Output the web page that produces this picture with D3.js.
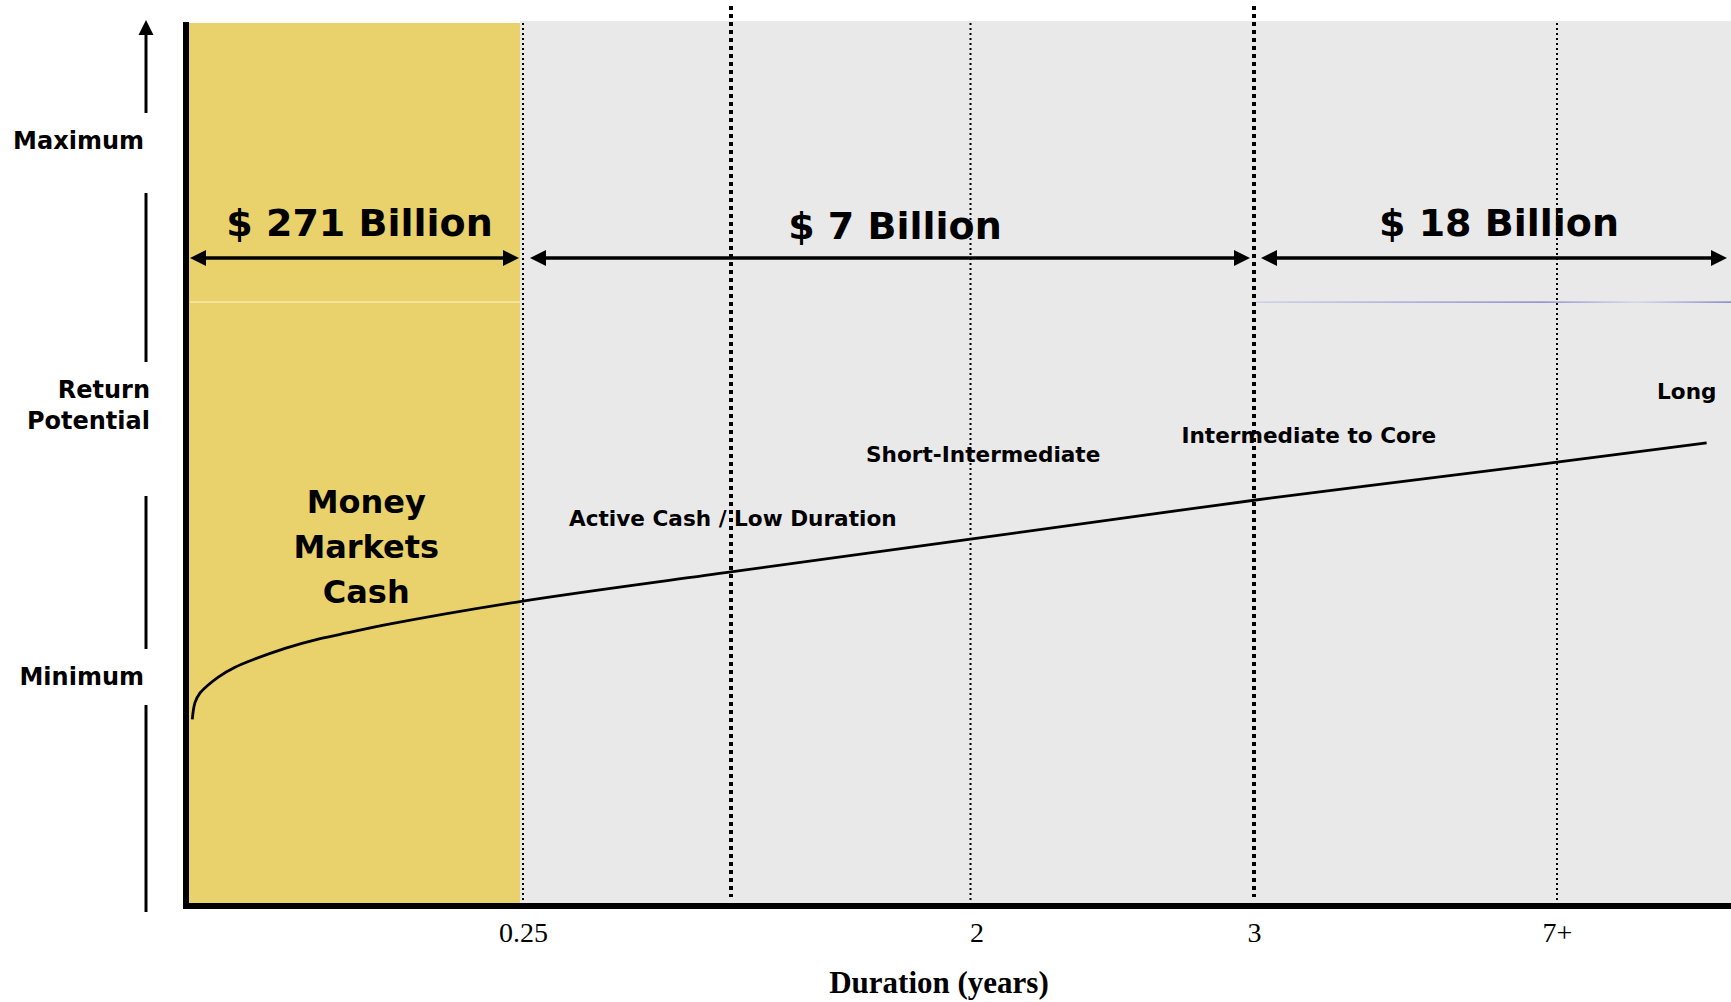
<!DOCTYPE html>
<html>
<head>
<meta charset="utf-8">
<script src="https://cdn.jsdelivr.net/npm/d3@7"></script>
<style>
  body { margin: 0; background: #fff; }
</style>
</head>
<body>
<svg id="chart"></svg>
<script>
// duration bands (years) and assets held in each
const bandEdges  = [0, 0.25, 3, 8];
const bandLabels = ["$ 271 Billion", "$ 7 Billion", "$ 18 Billion"];

// x ticks
const tickValues = [0.25, 2, 3, 7];
const tickLabels = ["0.25", "2", "3", "7+"];

// dotted separators (years)
const heavyLines = [1, 3];
const lightLines = [0.25, 2, 7];

// return potential curve, duration (years) -> relative return (0 = floor, 100 = top)
const curveDuration = [0.0032, 0.0052, 0.009, 0.0151, 0.0226, 0.0351, 0.0475, 0.0724, 0.0972, 0.1222, 0.147, 0.25, 1, 2, 3, 7, 7.86];
const curveReturn   = [21.1, 23.0, 24.1, 25.0, 25.9, 27.0, 27.8, 29.15, 30.2, 31.0, 31.8, 34.5, 37.8, 41.5, 45.9, 50.2, 52.4];

// strategy names along the curve
const sectorNames = ["Active Cash / Low Duration", "Short-Intermediate", "Intermediate to Core", "Long"];
const cashLines   = ["Money", "Markets", "Cash"];
const yLabels     = ["Maximum", "Return Potential", "Minimum"];

// ---- layout (not data) ----
const W = 1731, H = 1002;
const sans  = "'DejaVu Sans', Verdana, sans-serif";
const serif = "'Liberation Serif', 'Times New Roman', serif";
const sectorPos = [[0.416, 43.0], [1.564, 50.2], [2.744, 52.4], [7.575, 57.4]];
const yLabelPos = [[144, 149], [150, 398], [144, 685]];
const yGaps     = [[20, 113], [193, 362], [496, 649], [705, 912]];
const bandBase  = [236, 239, 236];
const tickNudge = [0, 6, 0, 0];

const svg = d3.select('#chart').attr('width', W).attr('height', H);

const x = d3.scaleLinear()
    .domain([0, 0.25, 1, 2, 3, 7, 8])
    .range([188, 523, 731, 970.5, 1254, 1557, 1731]);
const y = d3.scaleLinear().domain([0, 100]).range([906, 22]);

// backgrounds
svg.append('rect')
    .attr('x', x(0.25) - 3).attr('y', y(100) - 1)
    .attr('width', x(8) - x(0.25) + 3).attr('height', y(0) - y(100) + 1)
    .attr('fill', '#e9e9e9');
svg.append('rect')
    .attr('x', x(0)).attr('y', y(100) + 1)
    .attr('width', x(0.25) - x(0) - 3).attr('height', y(0) - y(100) - 1)
    .attr('fill', '#e9d16b');

// faint horizontal rules
svg.append('line')
    .attr('x1', x(0) + 2).attr('x2', x(0.25) - 3)
    .attr('y1', 302).attr('y2', 302)
    .attr('stroke', '#fff5c8').attr('stroke-width', 1);

const grad = svg.append('defs').append('linearGradient').attr('id', 'purp');
grad.append('stop').attr('offset', '0%').attr('stop-color', '#c8c8e6');
grad.append('stop').attr('offset', '60%').attr('stop-color', '#7474c4');
grad.append('stop').attr('offset', '80%').attr('stop-color', '#d0d0ea');
grad.append('stop').attr('offset', '100%').attr('stop-color', '#6a6abf');
svg.append('rect')
    .attr('x', x(3) + 2).attr('y', 301.5)
    .attr('width', x(8) - x(3) - 2).attr('height', 1.2)
    .attr('fill', 'url(#purp)');

// dotted separators
svg.selectAll('line.light').data(lightLines).enter()
    .append('line').attr('class', 'light')
    .attr('x1', d => x(d)).attr('x2', d => x(d))
    .attr('y1', y(100) + 1).attr('y2', y(0))
    .attr('stroke', '#000').attr('stroke-width', 2)
    .attr('stroke-dasharray', '2,3');

svg.selectAll('line.heavy').data(heavyLines).enter()
    .append('line').attr('class', 'heavy')
    .attr('x1', d => x(d)).attr('x2', d => x(d))
    .attr('y1', 6).attr('y2', 897)
    .attr('stroke', '#000').attr('stroke-width', 4)
    .attr('stroke-dasharray', '4,4');

// return curve
const pts = curveDuration.map((d, i) => ({ d: d, r: curveReturn[i] }));
svg.append('path')
    .datum(pts)
    .attr('fill', 'none')
    .attr('stroke', '#000')
    .attr('stroke-width', 2.8)
    .attr('d', d3.line().x(p => x(p.d)).y(p => y(p.r)).curve(d3.curveCatmullRom.alpha(0.5)));

// arrowhead helper
function head(tx, ty, dir, len, half) {
    // dir: 'l', 'r', 'u'
    if (dir === 'r') return `M${tx},${ty} L${tx - len},${ty - half} L${tx - len},${ty + half} Z`;
    if (dir === 'l') return `M${tx},${ty} L${tx + len},${ty - half} L${tx + len},${ty + half} Z`;
    return `M${tx},${ty} L${tx - half},${ty + len} L${tx + half},${ty + len} Z`;
}

// band arrows + labels
const arrowY = 258;
const bands = bandLabels.map((label, i) => ({
    label: label,
    x0: x(bandEdges[i]) + (i === 0 ? 2 : 7),
    x1: Math.min(x(bandEdges[i + 1]) - 4, W)
}));

const bg = svg.append('g');
bands.forEach((b, i) => {
    bg.append('line')
        .attr('x1', b.x0 + 10).attr('x2', b.x1 - 10)
        .attr('y1', arrowY).attr('y2', arrowY)
        .attr('stroke', '#000').attr('stroke-width', 3.5);
    bg.append('path').attr('d', head(b.x0, arrowY, 'l', 16, 8)).attr('fill', '#000');
    bg.append('path').attr('d', head(b.x1, arrowY, 'r', 16, 8)).attr('fill', '#000');
    bg.append('text')
        .attr('x', (b.x0 + b.x1) / 2 + 5)
        .attr('y', bandBase[i])
        .attr('text-anchor', 'middle')
        .style('font-family', sans).style('font-weight', 'bold').style('font-size', '38px')
        .text(b.label);
});

// money markets label
svg.selectAll('text.cash').data(cashLines).enter()
    .append('text').attr('class', 'cash')
    .attr('x', x(0.133))
    .attr('y', (d, i) => 513 + i * 45)
    .attr('text-anchor', 'middle')
    .style('font-family', sans).style('font-weight', 'bold').style('font-size', '32px')
    .text(d => d);

// sector labels
svg.selectAll('text.sector').data(sectorNames).enter()
    .append('text').attr('class', 'sector')
    .attr('x', (d, i) => x(sectorPos[i][0]))
    .attr('y', (d, i) => y(sectorPos[i][1]))
    .style('font-family', sans).style('font-weight', 'bold').style('font-size', '21.6px')
    .text(d => d);

// chart axes (thick lines)
svg.append('line')
    .attr('x1', 186).attr('x2', 186).attr('y1', y(100)).attr('y2', 909)
    .attr('stroke', '#000').attr('stroke-width', 6);
svg.append('line')
    .attr('x1', 183).attr('x2', W).attr('y1', y(0)).attr('y2', y(0))
    .attr('stroke', '#000').attr('stroke-width', 6);

// x tick labels
const xAxis = svg.append('g')
    .attr('transform', `translate(0, ${y(0)})`)
    .call(d3.axisBottom(x).tickValues(tickValues)
        .tickFormat((d, i) => tickLabels[i])
        .tickSize(0).tickPadding(16));
xAxis.select('.domain').remove();
xAxis.selectAll('text')
    .attr('dx', (d, i) => tickNudge[i])
    .style('font-family', serif).style('font-size', '28px').attr('fill', '#000');

svg.append('text')
    .attr('x', 939).attr('y', 993)
    .attr('text-anchor', 'middle')
    .style('font-family', serif).style('font-weight', 'bold').style('font-size', '31px')
    .text('Duration (years)');

// return potential scale on the left
const axX = 146;
yGaps.forEach((g, i) => {
    svg.append('line')
        .attr('x1', axX).attr('x2', axX)
        .attr('y1', i === 0 ? g[0] + 12 : g[0]).attr('y2', g[1])
        .attr('stroke', '#000').attr('stroke-width', 3);
});
svg.append('path').attr('d', head(axX, 20, 'u', 15, 7.5)).attr('fill', '#000');

yLabels.forEach((lab, i) => {
    const t = svg.append('text')
        .attr('x', yLabelPos[i][0]).attr('y', yLabelPos[i][1])
        .attr('text-anchor', 'end')
        .style('font-family', sans).style('font-weight', 'bold').style('font-size', '24px');
    const words = lab.split(' ');
    if (words.length === 1) {
        t.text(lab);
    } else {
        words.forEach((w, k) => {
            t.append('tspan').attr('x', yLabelPos[i][0]).attr('dy', k === 0 ? 0 : 31).text(w);
        });
    }
});
</script>
</body>
</html>
